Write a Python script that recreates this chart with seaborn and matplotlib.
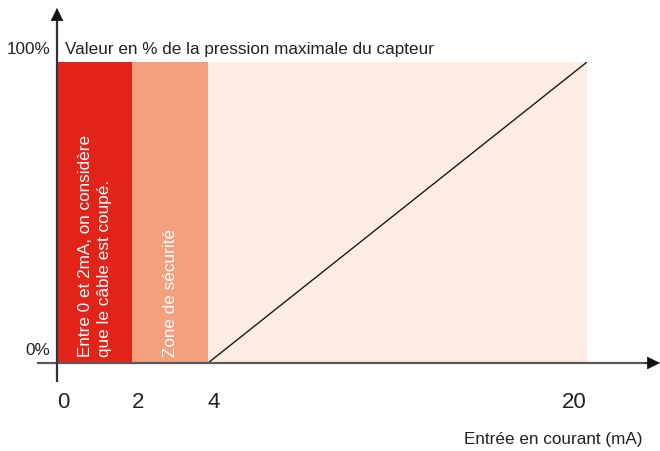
import numpy as np
import matplotlib
matplotlib.use("Agg")
import matplotlib.pyplot as plt
import seaborn as sns

# ── data ──────────────────────────────────────
zone_start = [0, 2, 4]
zone_end = [2, 4, 20]
zone_colors = ['#e2231a', '#f2a07e', '#fdece4']
zone_height = [100, 100, 100]

current_ma = [4, 20]
pressure_pct = [0, 100]

x_ticks = [0, 2, 4, 20]
y_ticks = [0, 100]
y_tick_labels = ['0%', '100%']

zone_notes = ['Entre 0 et 2mA, on considère\nque le câble est coupé.', 'Zone de sécurité']
zone_note_x = [1, 3]

title_txt = 'Valeur en % de la pression maximale du capteur'
xlabel_txt = 'Entrée en courant (mA)'

# ── style ─────────────────────────────────────
sns.set_theme(style='white')
plt.rcParams['font.family'] = ['Liberation Sans', 'DejaVu Sans']
TXT = '#222222'
FS = 12.3

# schematic axis: 0-4 mA stretched, 4-20 mA compressed
K = 0.6275


def fwd(x):
    x = np.asarray(x, dtype=float)
    return np.where(x <= 4, x, 4 + (x - 4) * K)


def inv(y):
    y = np.asarray(y, dtype=float)
    return np.where(y <= 4, y, 4 + (y - 4) / K)


fig = plt.figure(figsize=(6.6, 4.52), dpi=100)
W, H = 660, 452
ax = fig.add_axes([57 / W, 1 - 364 / H, (587 - 57) / W, (364 - 63) / H])
ax.set_xscale('function', functions=(fwd, inv))
ax.set_xlim(0, 20)
ax.set_ylim(0, 100)
ax.set_axis_off()

# zones
widths = np.array(zone_end) - np.array(zone_start)
ax.bar(zone_start, zone_height, width=widths, align='edge',
       color=zone_colors, edgecolor='none', linewidth=0, zorder=1)

# transfer line
sns.lineplot(x=current_ma, y=pressure_pct, ax=ax, color='#1a1a1a',
             linewidth=1.0, zorder=3)

# axis lines (gray) + black arrow heads
x_end, x_tail = (660 - 57) / 530, (37 - 57) / 530
y_end, y_tail = (364 - 9) / 301, (364 - 383) / 301
ax.plot([x_tail, x_end - 0.02], [0, 0], transform=ax.transAxes, clip_on=False,
        color='#5a5a5a', lw=1.6, zorder=4, solid_capstyle='butt')
ax.plot([0, 0], [y_tail, y_end - 0.04], transform=ax.transAxes, clip_on=False,
        color='#333333', lw=1.6, zorder=5, solid_capstyle='butt')
head = dict(arrowstyle='-|>,head_length=0.85,head_width=0.42',
            color='#111111', lw=0.5, shrinkA=0, shrinkB=0, mutation_scale=10)
ax.annotate('', xy=(x_end, 0), xytext=(x_end - 0.03, 0),
            xycoords='axes fraction', textcoords='axes fraction',
            arrowprops=head, zorder=6, annotation_clip=False)
ax.annotate('', xy=(0, y_end), xytext=(0, y_end - 0.05),
            xycoords='axes fraction', textcoords='axes fraction',
            arrowprops=head, zorder=6, annotation_clip=False)

# y labels
for yv, lab in zip(y_ticks, y_tick_labels):
    ax.annotate(lab, xy=(0, yv), xytext=(-5, 9.4), textcoords='offset points',
                ha='right', va='center', fontsize=FS, color=TXT, annotation_clip=False)

# x tick labels
for xv in x_ticks:
    dx = -9.5 if xv == 20 else 4.3
    ax.annotate(str(xv), xy=(xv, 0), xytext=(dx, -27.5), textcoords='offset points',
                ha='center', va='center', fontsize=16, color=TXT, annotation_clip=False)

# title inside the top
ax.annotate(title_txt, xy=(0, 100), xytext=(5.8, 9.4), textcoords='offset points',
            ha='left', va='center', fontsize=FS, color=TXT, annotation_clip=False)

# x-axis label
fig.text(643 / W, 1 - 440 / H, xlabel_txt, ha='right', va='center',
         fontsize=FS, color=TXT)

# notes in zones
for xv, note in zip(zone_note_x, zone_notes):
    ax.annotate(note, xy=(xv, 0), xytext=(0, 5), textcoords='offset points',
                rotation=90, ha='center', va='bottom', multialignment='left',
                linespacing=1.35, fontsize=FS, color='white', zorder=6)

plt.savefig('out.png', dpi=100, facecolor='white')
